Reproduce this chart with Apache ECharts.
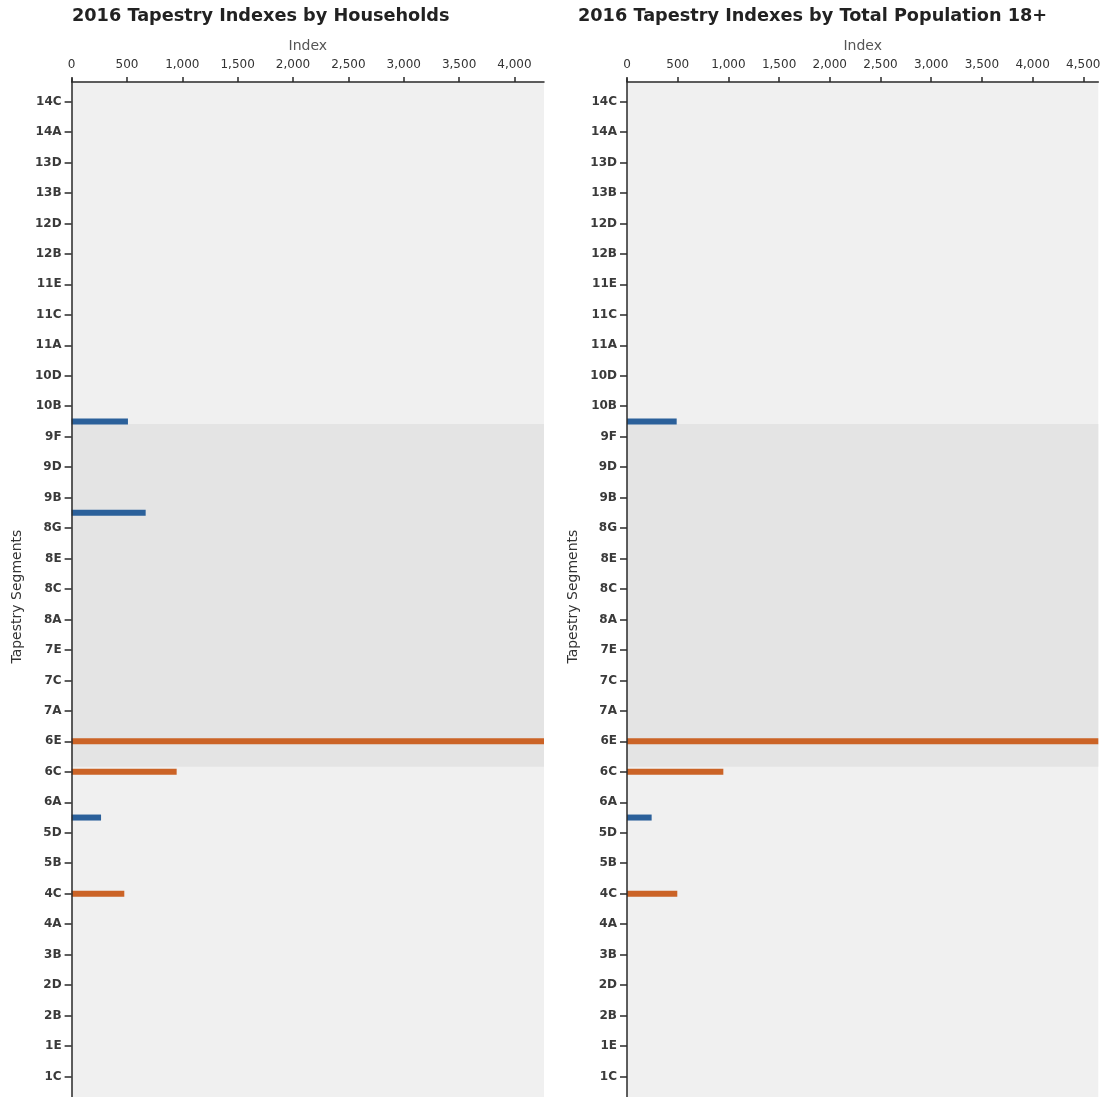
<!DOCTYPE html>
<html><head><meta charset="utf-8">
<script src="https://cdn.jsdelivr.net/npm/echarts@6/dist/echarts.min.js"></script>
<style>html,body{margin:0;padding:0;background:#fff}#c{width:1114px;height:1097px}</style>
</head><body><div id="c"></div>
<script>
// Tapestry segments, bottom (1A) to top; last slot is the unlabeled top slot
const segments = ['1A','1B','1C','1D','1E','2A','2B','2C','2D','3A','3B','3C','4A','4B','4C',
  '5A','5B','5C','5D','5E','6A','6B','6C','6D','6E','6F','7A','7B','7C','7D','7E','7F',
  '8A','8B','8C','8D','8E','8F','8G','9A','9B','9C','9D','9E','9F','10A','10B','10C','10D','10E',
  '11A','11B','11C','11D','11E','12A','12B','12C','12D','13A','13B','13C','13D','13E','14A','14B','14C','15'];

// Households indexes
const hhBlueSegs = ['5E', '9A', '10A'];
const hhBlueVals = [266, 669, 509];
const hhOrangeSegs = ['4C', '6C', '6E'];
const hhOrangeVals = [476, 949, 4267];

// Total Population 18+ indexes
const popBlueSegs = ['5E', '10A'];
const popBlueVals = [243, 490];
const popOrangeSegs = ['4C', '6C', '6E'];
const popOrangeVals = [496, 950, 4648];

// Tick labels
const hhTicks = [0, 500, 1000, 1500, 2000, 2500, 3000, 3500, 4000];
const popTicks = [0, 500, 1000, 1500, 2000, 2500, 3000, 3500, 4000, 4500];

const titles = ['2016 Tapestry Indexes by Households', '2016 Tapestry Indexes by Total Population 18+'];
const xName = 'Index';
const yName = 'Tapestry Segments';

const FONT = 'DejaVu Sans';
const BLUE = '#2b609a';
const ORANGE = '#cb6326';
const AXIS = '#2a2a2a';

const chart = echarts.init(document.getElementById('c'), null, {renderer: 'canvas'});

const grids = [
  {left: 71.6, top: 78.7, width: 472.4, height: 1035.9},
  {left: 627, top: 78.7, width: 471.3, height: 1035.9}
];
const tickSets = [hhTicks, popTicks];
const datasets = [
  {blueSegs: hhBlueSegs, blueVals: hhBlueVals, orangeSegs: hhOrangeSegs, orangeVals: hhOrangeVals},
  {blueSegs: popBlueSegs, blueVals: popBlueVals, orangeSegs: popOrangeSegs, orangeVals: popOrangeVals}
];

const option = {
  animation: false,
  backgroundColor: '#ffffff',
  title: titles.map((t, i) => ({
    text: t,
    left: i === 0 ? 67 : 573,
    top: 2,
    textStyle: {fontFamily: FONT, fontSize: 17.7, fontWeight: 'bold', color: '#222'}
  })),
  grid: grids.map(g => Object.assign({outerBoundsMode: 'none', containLabel: false}, g)),
  xAxis: [0, 1].map(i => ({
    gridIndex: i,
    type: 'value',
    position: 'top',
    offset: -3.3,
    min: 0,
    max: 'dataMax',
    name: xName,
    nameLocation: 'middle',
    nameGap: 29,
    nameTextStyle: {fontFamily: FONT, fontSize: 14, color: '#555'},
    axisLine: {show: true, onZero: false, lineStyle: {color: AXIS, width: 1.5}},
    axisTick: {show: true, length: 5, customValues: tickSets[i], lineStyle: {color: AXIS, width: 1.5}},
    axisLabel: {
      customValues: tickSets[i],
      margin: 11,
      fontFamily: FONT, fontSize: 12, color: '#333',
      formatter: v => Number(v).toLocaleString('en-US')
    },
    splitLine: {show: false},
    z: 10
  })),
  yAxis: [0, 1].flatMap(i => ([
    {
      gridIndex: i,
      type: 'category',
      data: segments,
      name: yName,
      nameLocation: 'middle',
      nameGap: 47,
      nameTextStyle: {fontFamily: FONT, fontSize: 14, color: '#333'},
      axisLine: {show: true, onZero: false, lineStyle: {color: AXIS, width: 1.5}},
      axisTick: {show: true, alignWithLabel: true, interval: 1, length: 7, lineStyle: {color: AXIS, width: 1.5}},
      axisLabel: {interval: 1, margin: 10, fontFamily: FONT, fontSize: 12, fontWeight: 'bold', color: '#3a3a3a'},
      splitLine: {show: false},
      z: 10
    },
    {
      gridIndex: i,
      type: 'value',
      min: 0,
      max: 68,
      show: false
    }
  ])),
  series: [0, 1].flatMap(i => {
    const d = datasets[i];
    return [
      {
        type: 'line',
        xAxisIndex: i,
        yAxisIndex: i * 2 + 1,
        data: [],
        silent: true,
        z: 1,
        markArea: {
          silent: true,
          data: [
            [{yAxis: 0, itemStyle: {color: '#f0f0f0'}}, {yAxis: 67.8}],
            [{yAxis: 22.84, itemStyle: {color: '#e4e4e4'}}, {yAxis: 45.33}]
          ]
        }
      },
      {
        type: 'bar',
        name: 'blue',
        xAxisIndex: i,
        yAxisIndex: i * 2,
        barWidth: 6,
        barGap: '-100%',
        z: 3,
        itemStyle: {color: BLUE},
        data: d.blueSegs.map((s, k) => [d.blueVals[k], s])
      },
      {
        type: 'bar',
        name: 'orange',
        xAxisIndex: i,
        yAxisIndex: i * 2,
        barWidth: 6,
        barGap: '-100%',
        z: 3,
        itemStyle: {color: ORANGE},
        data: d.orangeSegs.map((s, k) => [d.orangeVals[k], s])
      }
    ];
  })
};
chart.setOption(option);
</script>
</body></html>
